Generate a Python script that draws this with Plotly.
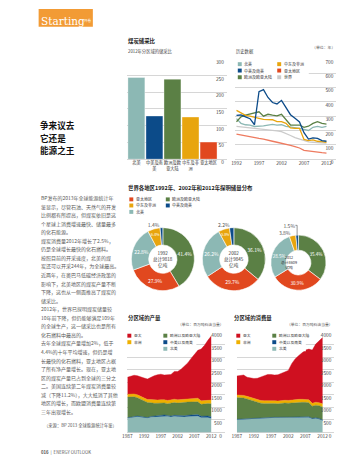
import plotly.graph_objects as go

W, H = 355, 463
def X(p): return p / W
def Y(p): return 1 - p / H

FONT = "Noto Sans CJK SC, Noto Sans, sans-serif"

C_NA = "#8cb8b4"; C_SCA = "#0c4b89"; C_EU = "#5b8045"; C_MEA = "#e8a50e"; C_AP = "#e1481f"
C_AP_LINE = "#ee7b60"; C_WORLD = "#cbcbcb"; C_AP_AREA = "#cf1020"; C_AF_AREA = "#efb000"
C_HEAD = "#f29b35"; C_GRID = "#d6d6d6"

# ---------------- data ----------------
rp_regions = ["北美", "中美及南<br>美", "欧洲及欧<br>亚大陆", "中东及非<br>洲", "亚太地区"]
rp_2012 = [244, 129, 239, 126, 51]

hist_years = list(range(1992, 2013))
hist_na = [283, 250, 240, 238, 228, 228, 232, 238, 242, 238, 240, 228, 225, 222, 215, 208, 200, 222, 228, 222, 228]
hist_sca = [305, 308, 295, 282, 240, 470, 485, 430, 395, 385, 410, 355, 310, 285, 260, 185, 140, 148, 145, 130, 125]
hist_eu = [261, 295, 307, 313, 323, 330, 300, 313, 307, 302, 313, 277, 238, 238, 238, 222, 230, 249, 261, 249, 245]
hist_mea = [340, 325, 305, 300, 295, 285, 278, 277, 275, 262, 262, 250, 218, 215, 215, 138, 130, 135, 125, 122, 118]
hist_ap = [175, 168, 162, 158, 152, 145, 140, 135, 125, 118, 112, 105, 96, 88, 78, 62, 57, 54, 50, 46, 43]
hist_world = [228, 225, 220, 215, 212, 208, 206, 205, 200, 198, 192, 180, 165, 150, 140, 128, 120, 118, 116, 114, 112]

pie_regions = ["欧洲及欧亚大陆", "亚太地区", "北美", "中东及非洲", "中美及南美"]
share_1992 = [41.4, 27.9, 22.8, 6.4, 1.4]
share_2002 = [36.1, 29.7, 26.2, 5.8, 2.2]
share_2012 = [35.4, 30.9, 28.5, 3.8, 1.5]
pie_centres = ["1992<br>总计9818<br>亿吨", "2002<br>总计9845<br>亿吨", "2012<br>总计8609<br>亿吨"]

area_years = list(range(1987, 2013))
prod_na = [570, 590, 610, 630, 610, 600, 570, 610, 620, 630, 650, 660, 640, 620, 640, 630, 610, 620, 630, 640, 640, 650, 590, 600, 590, 560]
prod_sca = [20, 20, 22, 22, 24, 25, 26, 28, 30, 32, 35, 38, 38, 40, 42, 42, 45, 50, 55, 58, 60, 62, 60, 60, 65, 65]
prod_eu = [820, 810, 790, 730, 680, 630, 600, 550, 510, 500, 490, 480, 470, 500, 510, 500, 520, 520, 525, 520, 510, 510, 470, 480, 500, 520]
prod_af = [110, 112, 115, 118, 120, 120, 122, 125, 128, 130, 132, 130, 130, 130, 135, 130, 135, 140, 145, 145, 145, 145, 140, 140, 145, 145]
prod_ap = [680, 718, 743, 760, 766, 795, 812, 887, 972, 1008, 1013, 982, 1012, 1020, 1103, 1128, 1210, 1320, 1415, 1587, 1765, 1903, 2060, 2190, 2370, 2550]

cons_na = [510, 520, 530, 530, 525, 530, 540, 550, 560, 570, 580, 585, 585, 600, 590, 590, 595, 600, 605, 600, 605, 600, 540, 560, 530, 470]
cons_sca = [15, 15, 16, 16, 17, 17, 18, 18, 19, 20, 20, 21, 21, 22, 22, 22, 23, 24, 25, 26, 27, 28, 27, 29, 30, 30]
cons_eu = [870, 860, 830, 790, 750, 700, 640, 600, 580, 575, 560, 550, 540, 548, 560, 555, 565, 570, 570, 575, 570, 560, 480, 500, 510, 520]
cons_af = [100, 100, 102, 104, 105, 105, 106, 108, 110, 112, 112, 110, 108, 110, 112, 112, 115, 118, 120, 120, 120, 118, 115, 118, 118, 120]
cons_ap = [755, 785, 812, 760, 763, 798, 856, 924, 1001, 1033, 1038, 1024, 1046, 1070, 1126, 1191, 1442, 1618, 1740, 1869, 1958, 2014, 2118, 2313, 2462, 2640]

title_lines = ["争来议去", "它还是", "能源之王"]
body_lines = [
    "BP发布的2013年全球能源统计年", "鉴显示，尽管石油、天然气的开发", "比例都有所提高，但煤炭依旧是这",
    "个星球上消费增速最快、储量最多", "的化石能源。",
    "煤炭消费量2012年增长了2.5%，", "仍是全球增长最快的化石燃料。",
    "按照目前的开采速度，北美的煤", "炭还可以开采244年，为全球最高。", "近两年，在奥巴马低碳经济政策的",
    "影响下，北美地区的煤炭产量不断", "下降，这也从一侧面推高了煤炭的", "储采比。",
    "2012年，世界已探明煤炭储量较", "10年前下降，但仍能够满足109年", "的全球生产，这一储采比也是所有",
    "化石燃料中最高的。",
    "去年全球煤炭产量增加2%，低于", "4.4%的十年平均增速，但仍是增", "长最快的化石燃料，亚太地区占据",
    "了所有净产量增长。现在，亚太地", "区的煤炭产量已占到全球的三分之", "二。美国连续第二年煤炭消费量较",
    "减（下降11.2%），大大抵消了其他", "地区的增长，而欧盟消费量连续第", "三年出现增长。",
]

# ---------------- figure ----------------
fig = go.Figure()

# bar chart
fig.add_trace(go.Bar(x=rp_regions, y=rp_2012, marker=dict(color=[C_NA, C_SCA, C_EU, C_MEA, C_AP],
                     line=dict(color="rgba(255,255,255,0.6)", width=0.6)), xaxis="x", yaxis="y"))

# line chart
for vals, col in [(hist_world, C_WORLD), (hist_ap, C_AP_LINE), (hist_na, C_NA), (hist_eu, C_EU),
                  (hist_mea, C_MEA), (hist_sca, C_SCA)]:
    fig.add_trace(go.Scatter(x=hist_years, y=vals, mode="lines", line=dict(color=col, width=1.3),
                             xaxis="x2", yaxis="y2"))

# donuts
pie_specs = [
    (share_1992, [120, 184], [222, 286], ["inside"] * 4 + ["outside"], 5.0),
    (share_2002, [191.5, 256.5], [222, 286], ["inside"] * 4 + ["outside"], 5.0),
    (share_2012, [261.5, 317.5], [229.5, 285.5], ["inside"] * 3 + ["outside"] * 2, 4.6),
]
for vals, xd, yd, pos, fs in pie_specs:
    fig.add_trace(go.Pie(labels=pie_regions, values=vals, text=[f"{v}%" for v in vals], textinfo="text",
                         textposition=pos, hole=0.45, sort=False, direction="clockwise", rotation=0,
                         marker=dict(colors=[C_EU, C_AP, C_NA, C_MEA, C_SCA], line=dict(color="white", width=0.6)),
                         insidetextfont=dict(color="white", size=fs), outsidetextfont=dict(color="#555", size=5),
                         insidetextorientation="horizontal",
                         domain=dict(x=[X(xd[0]), X(xd[1])], y=[Y(yd[1]), Y(yd[0])])))

# stacked areas
for (na, sca, eu, af, ap), xa, ya, grp in [((prod_na, prod_sca, prod_eu, prod_af, prod_ap), "x3", "y3", "p"),
                                            ((cons_na, cons_sca, cons_eu, cons_af, cons_ap), "x4", "y4", "c")]:
    for vals, col in [(na, C_NA), (sca, C_SCA), (eu, C_EU), (af, C_AF_AREA), (ap, C_AP_AREA)]:
        fig.add_trace(go.Scatter(x=area_years, y=vals, stackgroup=grp, mode="lines",
                                 line=dict(width=0.4, color=col), fillcolor=col, xaxis=xa, yaxis=ya))

tickf = dict(size=4.8, color="#444", family=FONT)
common_y = dict(side="right", ticklabelposition="inside bottom", showgrid=True, gridcolor=C_GRID, gridwidth=1.2,
                zeroline=True, zerolinecolor=C_GRID, zerolinewidth=1.2, showline=False, ticks="", tickfont=tickf,
                fixedrange=True, ticklabeloverflow="allow")
common_x = dict(showgrid=False, zeroline=False, showline=False, ticks="", tickfont=tickf, fixedrange=True,
                tickangle=0, ticklabeloverflow="allow")

fig.update_layout(
    width=W, height=H, margin=dict(l=0, r=0, t=0, b=0), paper_bgcolor="white", plot_bgcolor="white",
    showlegend=False, hovermode=False, font=dict(family=FONT), bargap=0.06,
    xaxis=dict(domain=[X(116), X(217)], range=[-0.5, 5.02], anchor="y", **{**common_x, "tickfont": dict(size=4.2, color="#333", family=FONT)}),
    yaxis=dict(domain=[Y(152.5), Y(50.5)], range=[0, 300], dtick=50, anchor="x", **common_y),
    xaxis2=dict(domain=[X(225), X(328)], range=[1991.63, 2014.2], tickvals=[1992, 1997, 2002, 2007, 2012], anchor="y2", **common_x),
    yaxis2=dict(domain=[Y(152.5), Y(50.5)], range=[0, 700], dtick=100, anchor="x2", **common_y),
    xaxis3=dict(domain=[X(116), X(215)], range=[1987, 2016.1], tickvals=[1987, 1992, 1997, 2002, 2007, 2012], anchor="y3", **common_x),
    yaxis3=dict(domain=[Y(430), Y(328)], range=[0, 4000], dtick=500, anchor="x3", **common_y),
    xaxis4=dict(domain=[X(227), X(326)], range=[1987, 2015.45], tickvals=[1987, 1992, 1997, 2002, 2007, 2012], anchor="y4", **common_x),
    yaxis4=dict(domain=[Y(430), Y(328)], range=[0, 4000], dtick=500, anchor="x4", **common_y),
)

shapes = []
ann = []

def txt(x, y, s, size=4.3, color="#444", bold=False, anchor="left", family=FONT, yanchor="middle"):
    if bold:
        s = f"<b>{s}</b>"
    ann.append(dict(x=X(x), y=Y(y), xref="paper", yref="paper", text=s, showarrow=False, xanchor=anchor,
                    yanchor=yanchor, align="left", font=dict(size=size, color=color, family=family), borderpad=0))

def box(x0, y0, x1, y1, color, layer="above"):
    shapes.append(dict(type="rect", xref="paper", yref="paper", x0=X(x0), x1=X(x1), y0=Y(y1), y1=Y(y0),
                       fillcolor=color, line=dict(width=0), layer=layer))

def legend_item(x, y, color, label, size=3.9):
    box(x, y - 2, x + 4, y + 2, color)
    txt(x + 5.5, y, label, size=size, color="#333")

# page edge
shapes.append(dict(type="line", xref="paper", yref="paper", x0=X(351), x1=X(351), y0=0, y1=1,
                   line=dict(color="#e2e2e2", width=1.5), layer="below"))

# header box
box(26, 0, 81, 18, C_HEAD, layer="below")
txt(27, 19.5, "Starting", size=10.5, color="white", family="DejaVu Serif, Liberation Serif, serif", yanchor="bottom")
txt(71, 12, "开卷", size=3.6, color="white")

# title
for i, line in enumerate(title_lines):
    txt(26.5, 118 + i * 12.6, line, size=8.6, color="#111", bold=True)

# body
for i, line in enumerate(body_lines):
    txt(27, 192 + i * 8.68, line, size=5.0, color="#5a5a5a")
txt(107, 422.7, "（来源：BP 2013 全球能源统计年鉴）", size=4.3, color="#555", anchor="right")
txt(27, 450, "<b>016</b>  |  ENERGY OUTLOOK", size=4.3, color="#555")

# section 1 headings
txt(115.5, 32.5, "煤炭储采比", size=5.4, color="#222", bold=True)
txt(115.5, 43.3, "2012年分区域的储采比", size=4.3, color="#444")
txt(225.5, 43.3, "历史数据", size=4.3, color="#444")
txt(327.5, 38.3, "（单位：年）", size=3.9, color="#555", anchor="right")

# line legend
box(225.5, 52.5, 300, 73, "white")
legend_item(228, 56, C_NA, "北美", 4.0)
legend_item(228, 62.5, C_SCA, "中美及南美", 4.0)
legend_item(228, 69.3, C_EU, "欧洲及欧亚大陆", 4.0)
legend_item(268, 56, C_MEA, "中东及非洲", 4.0)
legend_item(268, 62.5, C_AP, "亚太地区", 4.0)
legend_item(268, 69.3, C_WORLD, "世界", 4.0)

# pie section
txt(115.5, 181.7, "世界各地区1992年、2002年和2012年探明储量分布", size=5.4, color="#222", bold=True)
legend_item(118, 193.3, C_AP, "亚太地区", 4.0)
legend_item(118, 199.5, C_MEA, "中东及非洲", 4.0)
legend_item(118, 206, C_NA, "北美", 4.0)
legend_item(155, 193.3, C_EU, "欧洲及欧亚大陆", 4.0)
legend_item(155, 199.5, C_SCA, "中美及南美", 4.0)
for (vals, xd, yd, pos, _), label, fs in zip(pie_specs, pie_centres, [4.6, 4.6, 3.8]):
    ann.append(dict(x=X((xd[0] + xd[1]) / 2), y=Y((yd[0] + yd[1]) / 2), xref="paper", yref="paper", text=label,
                    showarrow=False, font=dict(size=fs, color="#333", family=FONT), borderpad=0))

# area sections
txt(115.5, 313.3, "分区域的产量", size=5.4, color="#222", bold=True)
txt(215, 320, "（单位：百万吨石油当量）", size=3.8, color="#555", anchor="right")
txt(223.5, 313.3, "分区域的消费量", size=5.4, color="#222", bold=True)
txt(326, 320, "（单位：百万吨石油当量）", size=3.8, color="#555", anchor="right")
box(116, 329, 186, 347.6, "white")
box(227, 329, 297, 347.6, "white")
for xl, xr in [(116, 152.5), (226.5, 263)]:
    legend_item(xl, 331.7, C_AP_AREA, "亚太", 3.8)
    legend_item(xl, 338.3, C_AF_AREA, "非洲", 3.8)
    legend_item(xr, 331.7, C_EU, "欧洲以及欧亚大陆", 3.8)
    legend_item(xr, 338.3, C_SCA, "中美以及南美", 3.8)
    legend_item(xr, 345, C_NA, "北美", 3.8)

fig.update_layout(shapes=shapes, annotations=ann)
fig.write_html("out.html")
